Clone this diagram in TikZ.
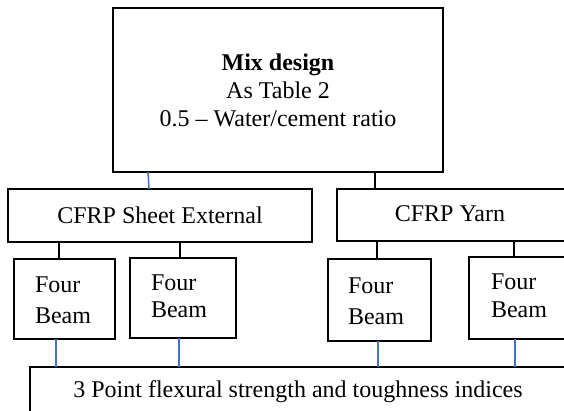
\documentclass[tikz,border=0pt]{standalone}
\usepackage{fontspec}
\setmainfont{Liberation Serif}
\definecolor{linkblue}{RGB}{68,114,196}
\begin{document}
\begin{tikzpicture}[x=1pt,y=-1pt,
  box/.style={draw=black, line width=1.8pt, inner sep=0pt, outer sep=0pt, anchor=north west},
  txt/.style={inner sep=0pt, outer sep=0pt, font=\fontsize{24}{28}\selectfont},
  conn/.style={line width=1.8pt, draw=black},
  bconn/.style={line width=1.5pt, draw=linkblue}]
\useasboundingbox (0,0) rectangle (564,410);
\clip (0,0) rectangle (564,410);
% boxes
\node[box, line width=2.2pt, minimum width=330pt, minimum height=164pt, align=center,
      font=\fontsize{24}{28}\selectfont] (mix) at (113,8)
      {\textbf{Mix design}\\As Table 2\\0.5 -- Water/cement ratio};
\node[box, minimum width=304pt, minimum height=53pt, font=\fontsize{24}{28}\selectfont] (sheet) at (8,189) {CFRP Sheet External};
\node[box, minimum width=233pt, minimum height=52pt] (yarn) at (337,189) {};
\node[txt] (yarnt) at (450,214) {CFRP Yarn};
\node[box, minimum width=101pt, minimum height=80pt] (beam1) at (14,259) {};
\node[box, minimum width=106pt, minimum height=80pt] (beam2) at (130,258) {};
\node[box, minimum width=103pt, minimum height=82pt] (beam3) at (328,259) {};
\node[box, minimum width=111pt, minimum height=82pt] (beam4) at (469,257) {};
\node[txt, anchor=west, align=left, font=\fontsize{24}{31}\selectfont] (t1) at (35,300.5) {Four\\Beam};
\node[txt, anchor=west, align=left, font=\fontsize{24}{27}\selectfont] (t2) at (151,296.5) {Four\\Beam};
\node[txt, anchor=west, align=left, font=\fontsize{24}{31}\selectfont] (t3) at (348,301.5) {Four\\Beam};
\node[txt, anchor=west, align=left, font=\fontsize{24}{28}\selectfont] (t4) at (491,296) {Four\\Beam};
\node[box, minimum width=570pt, minimum height=80pt] (bottom) at (30,367) {};
\node[txt] (bottomt) at (298,392) {3 Point flexural strength and toughness indices};
% connectors
\draw[bconn] ([xshift=35pt]mix.south west) -- ([xshift=141pt]sheet.north west);
\draw[conn] ([xshift=262pt]mix.south west) -- ([xshift=38pt]yarn.north west);
\draw[conn] ([xshift=51pt]sheet.south west) -- ([xshift=45pt]beam1.north west);
\draw[conn] ([xshift=172pt]sheet.south west) -- ([xshift=50pt]beam2.north west);
\draw[conn] ([xshift=40pt]yarn.south west) -- ([xshift=49pt]beam3.north west);
\draw[conn] ([xshift=177pt]yarn.south west) -- ([xshift=45pt]beam4.north west);
\draw[bconn] ([xshift=42pt]beam1.south west) -- ([xshift=26pt]bottom.north west);
\draw[bconn] ([xshift=49pt]beam2.south west) -- ([xshift=149pt]bottom.north west);
\draw[bconn] ([xshift=50pt]beam3.south west) -- ([xshift=348pt]bottom.north west);
\draw[bconn] ([xshift=46pt]beam4.south west) -- ([xshift=485pt]bottom.north west);
\end{tikzpicture}
\end{document}
